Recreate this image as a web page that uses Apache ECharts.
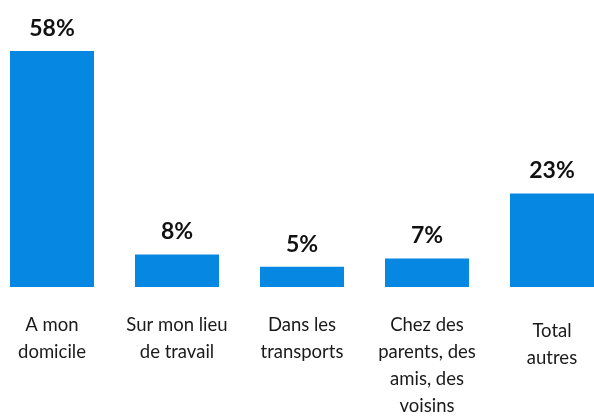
<!DOCTYPE html>
<html>
<head>
<meta charset="utf-8">
<script src="https://cdn.jsdelivr.net/npm/echarts@6/dist/echarts.min.js"></script>
<style>
  html, body { margin: 0; padding: 0; background: #fff; }
  #chart { width: 594px; height: 417px; }
</style>
</head>
<body>
<div id="chart"></div>
<script>
const categories = ["A mon\ndomicile", "Sur mon lieu\nde travail", "Dans les\ntransports", "Chez des\nparents, des\namis, des\nvoisins", "Total\nautres"];
const values = [58, 8, 5, 7, 23];

const chart = echarts.init(document.getElementById("chart"));
chart.setOption({
  animation: false,
  grid: { left: -10.5, right: -20.5, top: 51, bottom: 130, containLabel: false, outerBoundsMode: "none" },
  xAxis: {
    type: "category",
    data: categories.map((c, i) => i === 4
      ? { value: c, textStyle: { padding: [6, 0, 0, 0] } }
      : c),
    axisLine: { show: false },
    axisTick: { show: false },
    axisLabel: {
      interval: 0, margin: 25, color: "#1a1a1a", fontFamily: "Lato", fontSize: 18.5, lineHeight: 27
    }
  },
  yAxis: { type: "value", min: 0, max: 58, show: false, splitLine: { show: false } },
  series: [{
    type: "bar", data: values, barWidth: 84, color: "#0587e2",
    label: {
      show: true, position: "top", distance: 11, formatter: "{c}%",
      color: "#111", fontFamily: "Lato", fontWeight: "bold", fontSize: 23
    }
  }]
});
</script>
</body>
</html>
